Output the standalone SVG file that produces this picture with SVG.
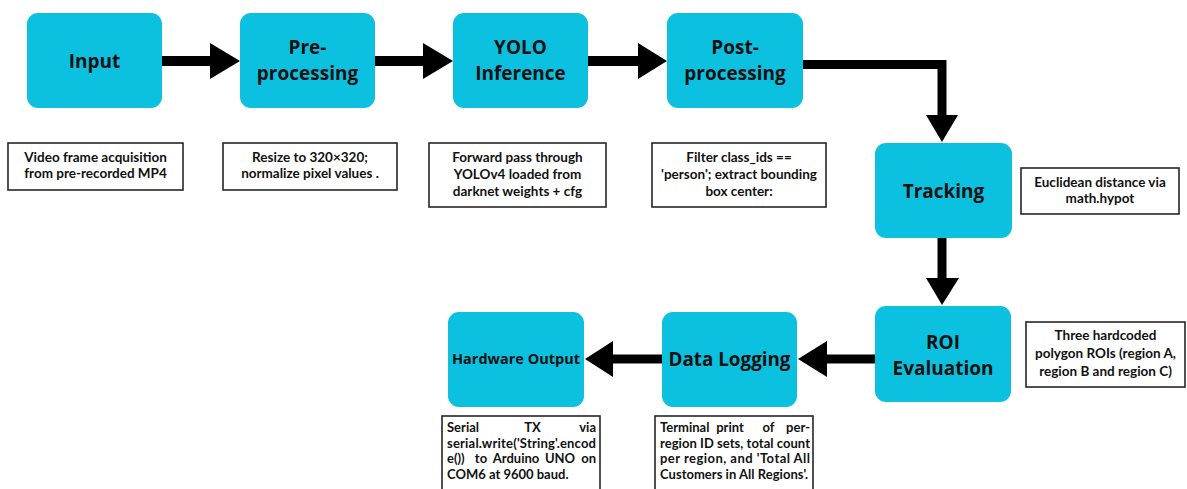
<svg xmlns="http://www.w3.org/2000/svg" width="1187" height="489" viewBox="0 0 1187 489">
  <style>
    .node { fill: #0CC0DF; }
    .label { font-family: "Open Sans", "Liberation Sans", sans-serif; font-weight: 700; font-size: 19px; fill: #111; text-anchor: middle; }
    .note { fill: #fff; stroke: #262626; stroke-width: 1.6; }
    .desc { font-family: Lato, "Open Sans", "Liberation Sans", sans-serif; font-weight: 700; font-size: 13.5px; fill: #111; text-anchor: middle; }
    .just { font-family: Lato, "Open Sans", "Liberation Sans", sans-serif; font-weight: 700; font-size: 13px; fill: #111; }
    .mid { text-anchor: middle; }
    .end { text-anchor: end; }
    .wire { fill: none; stroke: #000; }
    .head { fill: #000; }
  </style>

  <rect width="1187" height="489" fill="#fff"/>

  <!-- connectors -->
  <g id="connectors">
    <line class="wire" x1="162" y1="61" x2="212" y2="61" stroke-width="10"/>
    <polygon class="head" points="210,43 240,61 210,79"/>
    <line class="wire" x1="375" y1="61" x2="425" y2="61" stroke-width="10"/>
    <polygon class="head" points="423,43 453,61 423,79"/>
    <line class="wire" x1="588" y1="61" x2="640" y2="61" stroke-width="10"/>
    <polygon class="head" points="638,43 667,61 638,79"/>
    <polyline class="wire" points="803,64.5 942,64.5 942,117" stroke-width="9"/>
    <polygon class="head" points="926,115 958,115 942,142"/>
    <line class="wire" x1="942" y1="238" x2="942" y2="280" stroke-width="9"/>
    <polygon class="head" points="926,278 959,278 942,305"/>
    <line class="wire" x1="875" y1="359" x2="825" y2="359" stroke-width="9"/>
    <polygon class="head" points="827,341 798,359 827,377"/>
    <line class="wire" x1="662" y1="359" x2="611" y2="359" stroke-width="9"/>
    <polygon class="head" points="613,341 585,359 613,377"/>
  </g>

  <!-- pipeline stages -->
  <g id="input">
    <rect class="node" x="27" y="13" width="135" height="95" rx="11"/>
    <text class="label" x="94.5" y="68">Input</text>
  </g>
  <g id="preprocessing">
    <rect class="node" x="240" y="13" width="135" height="95" rx="11"/>
    <text class="label" x="307.5" y="54">Pre-</text>
    <text class="label" x="307.5" y="80">processing</text>
  </g>
  <g id="yolo-inference">
    <rect class="node" x="453" y="13" width="135" height="95" rx="11"/>
    <text class="label" x="520.5" y="54">YOLO</text>
    <text class="label" x="520.5" y="80">Inference</text>
  </g>
  <g id="postprocessing">
    <rect class="node" x="667" y="13" width="136" height="95" rx="11"/>
    <text class="label" x="735" y="54">Post-</text>
    <text class="label" x="735" y="80">processing</text>
  </g>
  <g id="tracking">
    <rect class="node" x="875" y="143" width="137" height="95" rx="11"/>
    <text class="label" x="943.5" y="198">Tracking</text>
  </g>
  <g id="roi-evaluation">
    <rect class="node" x="875" y="306" width="136" height="96" rx="11"/>
    <text class="label" x="943" y="349">ROI</text>
    <text class="label" x="943" y="375">Evaluation</text>
  </g>
  <g id="data-logging">
    <rect class="node" x="662" y="312" width="135" height="95" rx="11"/>
    <text class="label" x="729.5" y="366" textLength="122" lengthAdjust="spacingAndGlyphs" style="font-size:20px">Data Logging</text>
  </g>
  <g id="hardware-output">
    <rect class="node" x="448" y="312" width="136" height="95" rx="11"/>
    <text class="label" x="516" y="364" style="font-size:14.5px">Hardware Output</text>
  </g>

  <!-- stage notes -->
  <g id="note-input">
    <rect class="note" x="8" y="143" width="175" height="47"/>
    <text class="desc" x="95.5" y="162">Video frame acquisition</text>
    <text class="desc" x="95.5" y="178">from pre-recorded MP4</text>
  </g>
  <g id="note-preprocessing">
    <rect class="note" x="223" y="143" width="174" height="47"/>
    <text class="desc" x="310" y="162">Resize to 320×320;</text>
    <text class="desc" x="310" y="178">normalize pixel values .</text>
  </g>
  <g id="note-yolo">
    <rect class="note" x="429" y="143" width="177" height="64"/>
    <text class="desc" x="517.5" y="162">Forward pass through</text>
    <text class="desc" x="517.5" y="179">YOLOv4 loaded from</text>
    <text class="desc" x="517.5" y="196">darknet weights + cfg</text>
  </g>
  <g id="note-postprocessing">
    <rect class="note" x="652" y="143" width="174" height="64"/>
    <text class="desc" x="739" y="162">Filter class_ids ==</text>
    <text class="desc" x="739" y="179">'person'; extract bounding</text>
    <text class="desc" x="739" y="196">box center:</text>
  </g>
  <g id="note-tracking">
    <rect class="note" x="1021" y="168" width="158" height="46"/>
    <text class="desc" x="1100" y="187">Euclidean distance via</text>
    <text class="desc" x="1100" y="203">math.hypot</text>
  </g>
  <g id="note-roi">
    <rect class="note" x="1026" y="322" width="159" height="65"/>
    <text class="desc" x="1105.5" y="340">Three hardcoded</text>
    <text class="desc" x="1105.5" y="358">polygon ROIs (region A,</text>
    <text class="desc" x="1105.5" y="376">region B and region C)</text>
  </g>
  <!-- justified notes: words spread across the full column -->
  <g id="note-data-logging">
    <rect class="note" x="655" y="416" width="158" height="80"/>
    <text class="just" x="660" y="432">Terminal</text>
    <text class="just mid" x="730" y="432">print</text>
    <text class="just mid" x="768.5" y="432">of</text>
    <text class="just end" x="810" y="432">per-</text>
    <text class="just" x="660" y="447.5" textLength="150" lengthAdjust="spacing">region ID sets, total count</text>
    <text class="just" x="660" y="463" textLength="150" lengthAdjust="spacing">per region, and 'Total All</text>
    <text class="just" x="660" y="478.5" textLength="148" lengthAdjust="spacing">Customers in All Regions'.</text>
  </g>
  <g id="note-hardware">
    <rect class="note" x="442" y="416" width="158" height="80"/>
    <text class="just" x="447" y="432">Serial</text>
    <text class="just mid" x="532.5" y="432">TX</text>
    <text class="just end" x="596" y="432">via</text>
    <text class="just" x="447" y="447.5" textLength="149" lengthAdjust="spacing">serial.write('String'.encod</text>
    <text class="just" x="447" y="463">e())</text>
    <text class="just mid" x="481" y="463">to</text>
    <text class="just mid" x="516" y="463">Arduino</text>
    <text class="just mid" x="560" y="463">UNO</text>
    <text class="just end" x="596" y="463">on</text>
    <text class="just" x="447" y="478.5">COM6 at 9600 baud.</text>
  </g>
</svg>
